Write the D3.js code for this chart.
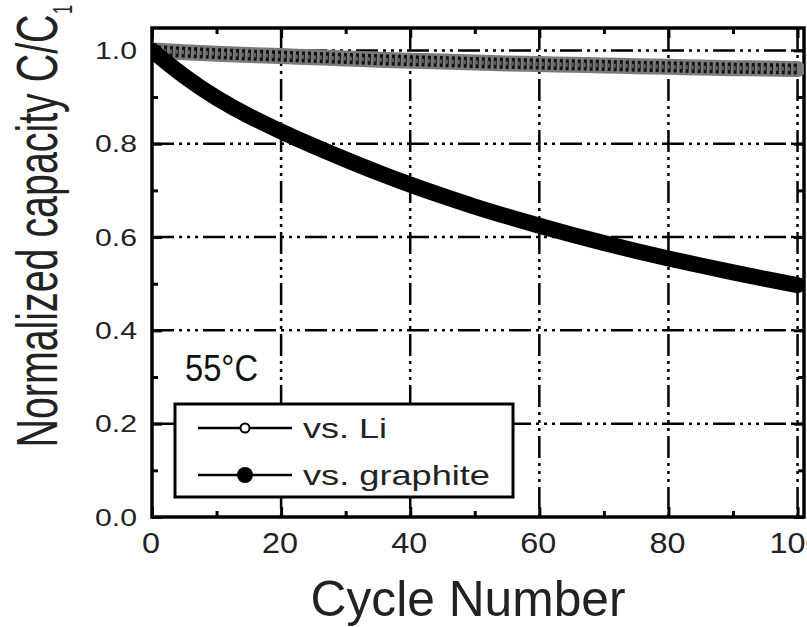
<!DOCTYPE html>
<html>
<head>
<meta charset="utf-8">
<script src="https://cdn.jsdelivr.net/npm/d3@7"></script>
<style>
  html, body { margin: 0; padding: 0; background: #fff; }
  svg { display: block; font-family: "Liberation Sans", Arial, sans-serif; }
</style>
</head>
<body>
<svg id="svg" width="807" height="627"></svg>
<script>
// values
var cycles = [0, 5, 10, 15, 20, 25, 30, 35, 40, 45, 50, 55, 60, 65, 70, 75, 80, 85, 90, 95, 100];
var vsLi = [1.0, 0.996, 0.993, 0.990, 0.988, 0.985, 0.983, 0.980, 0.978, 0.976, 0.974,
            0.972, 0.971, 0.969, 0.968, 0.966, 0.965, 0.963, 0.962, 0.961, 0.960];
var vsGraphite = [1.0, 0.943, 0.897, 0.859, 0.826, 0.795, 0.766, 0.738, 0.712, 0.688, 0.665,
                  0.644, 0.624, 0.605, 0.587, 0.570, 0.554, 0.539, 0.524, 0.510, 0.497];
var xTicks = [0, 20, 40, 60, 80, 100];
var yTicks = [0.0, 0.2, 0.4, 0.6, 0.8, 1.0];
var xMinor = [10, 30, 50, 70, 90];
var yMinor = [0.1, 0.3, 0.5, 0.7, 0.9];
var legendLabels = ["vs. Li", "vs. graphite"];

var svg = d3.select('#svg');
var pL = 152, pR = 804, pT = 28, pB = 517;

var x = d3.scaleLinear().domain([0, 101]).range([pL, pR]);
var y = d3.scaleLinear().domain([0, 1.048]).range([pB, pT]);

var dash = '22,5,3,5,3,5,3,5';

// grid
var grid = svg.append('g').attr('stroke', '#000').attr('stroke-width', 2.5)
    .attr('stroke-dasharray', dash).attr('fill', 'none');
xTicks.forEach(function (t) {
    if (t === 0) return;
    grid.append('line').attr('x1', x(t)).attr('x2', x(t)).attr('y1', pT).attr('y2', pB);
});
yTicks.forEach(function (t) {
    if (t === 0) return;
    grid.append('line').attr('y1', y(t)).attr('y2', y(t)).attr('x1', pL).attr('x2', pR);
});

// axes, ticks inward on all four sides
svg.append('g').attr('transform', 'translate(0,' + pB + ')')
    .call(d3.axisTop(x).tickValues(xTicks).tickSize(10).tickFormat(''));
svg.append('g').attr('transform', 'translate(0,' + pB + ')')
    .call(d3.axisTop(x).tickValues(xMinor).tickSize(6).tickFormat(''));
svg.append('g').attr('transform', 'translate(0,' + pT + ')')
    .call(d3.axisBottom(x).tickValues(xTicks).tickSize(10).tickFormat(''));
svg.append('g').attr('transform', 'translate(0,' + pT + ')')
    .call(d3.axisBottom(x).tickValues(xMinor).tickSize(6).tickFormat(''));
svg.append('g').attr('transform', 'translate(' + pL + ',0)')
    .call(d3.axisRight(y).tickValues(yTicks).tickSize(10).tickFormat(''));
svg.append('g').attr('transform', 'translate(' + pL + ',0)')
    .call(d3.axisRight(y).tickValues(yMinor).tickSize(6).tickFormat(''));
svg.append('g').attr('transform', 'translate(' + pR + ',0)')
    .call(d3.axisLeft(y).tickValues(yTicks).tickSize(10).tickFormat(''));
svg.append('g').attr('transform', 'translate(' + pR + ',0)')
    .call(d3.axisLeft(y).tickValues(yMinor).tickSize(6).tickFormat(''));

svg.selectAll('.tick line').attr('stroke', '#000').attr('stroke-width', 3);
svg.selectAll('.domain').remove();

// frame
svg.append('rect').attr('x', pL).attr('y', pT)
    .attr('width', pR - pL).attr('height', pB - pT)
    .attr('fill', 'none').attr('stroke', '#000').attr('stroke-width', 3.5);

// tick labels
svg.append('g').selectAll('text').data(yTicks).enter().append('text')
    .attr('x', 137).attr('y', function (d) { return y(d) + 8.5; })
    .attr('text-anchor', 'end').attr('font-size', 24).attr('fill', '#222')
    .attr('textLength', 42).attr('lengthAdjust', 'spacingAndGlyphs')
    .text(function (d) { return d.toFixed(1); });

svg.append('g').selectAll('text').data(xTicks).enter().append('text')
    .attr('x', function (d) { return x(d) - 1; }).attr('y', 553)
    .attr('text-anchor', 'middle').attr('font-size', 29).attr('fill', '#222')
    .attr('textLength', function (d) { return String(d).length * 18; })
    .attr('lengthAdjust', 'spacingAndGlyphs')
    .text(function (d) { return d; });

// data
var liData = cycles.map(function (c, i) { return [c, vsLi[i]]; });
var grData = cycles.map(function (c, i) { return [c, vsGraphite[i]]; });
var line = d3.line()
    .x(function (d) { return x(d[0]); })
    .y(function (d) { return y(d[1]); })
    .curve(d3.curveBasis);

svg.append('clipPath').attr('id', 'plotclip').append('rect')
    .attr('x', pL).attr('y', pT).attr('width', pR - pL).attr('height', pB - pT);
var plot = svg.append('g').attr('clip-path', 'url(#plotclip)');

// vs. Li: band of overlapping open circles
plot.append('path').attr('d', line(liData)).attr('fill', 'none')
    .attr('stroke', '#7a7a7a').attr('stroke-width', 16).attr('stroke-linecap', 'round');
plot.append('path').attr('d', line(liData)).attr('fill', 'none')
    .attr('stroke', '#111').attr('stroke-width', 11).attr('stroke-dasharray', '3,3');
plot.append('path').attr('d', line(liData)).attr('fill', 'none')
    .attr('stroke', '#666').attr('stroke-width', 4).attr('stroke-dasharray', '2,4');

// vs. graphite: band of overlapping filled circles
plot.append('path').attr('d', line(grData)).attr('fill', 'none')
    .attr('stroke', '#000').attr('stroke-width', 16).attr('stroke-linecap', 'round');

// 55°C label
svg.append('text').attr('x', 185).attr('y', 381)
    .attr('font-size', 36).attr('fill', '#111')
    .attr('textLength', 73).attr('lengthAdjust', 'spacingAndGlyphs')
    .text('55°C');

// legend
var lg = svg.append('g');
lg.append('rect').attr('x', 175).attr('y', 404).attr('width', 338).attr('height', 93)
    .attr('fill', '#fff').attr('stroke', '#000').attr('stroke-width', 3);
var rows = [428, 475];
rows.forEach(function (ry, i) {
    lg.append('line').attr('x1', 198).attr('x2', 292).attr('y1', ry).attr('y2', ry)
        .attr('stroke', '#000').attr('stroke-width', 2.5);
    if (i === 0) {
        lg.append('circle').attr('cx', 245).attr('cy', ry).attr('r', 4.5)
            .attr('fill', '#fff').attr('stroke', '#000').attr('stroke-width', 2);
    } else {
        lg.append('circle').attr('cx', 245).attr('cy', ry).attr('r', 8).attr('fill', '#000');
    }
    lg.append('text').attr('x', 303).attr('y', ry + 10)
        .attr('font-size', 28).attr('fill', '#222')
        .attr('textLength', i === 0 ? 84 : 187).attr('lengthAdjust', 'spacingAndGlyphs')
        .text(legendLabels[i]);
});

// axis titles
svg.append('text').attr('x', 468).attr('y', 616)
    .attr('text-anchor', 'middle').attr('font-size', 50).attr('fill', '#222')
    .attr('textLength', 315).attr('lengthAdjust', 'spacingAndGlyphs')
    .text('Cycle Number');

svg.append('text').attr('transform', 'translate(57,231) rotate(-90)')
    .attr('text-anchor', 'middle').attr('font-size', 57).attr('fill', '#222')
    .attr('textLength', 433).attr('lengthAdjust', 'spacingAndGlyphs')
    .text('Normalized capacity C/C');
svg.append('text').attr('transform', 'translate(72,14) rotate(-90)')
    .attr('text-anchor', 'start').attr('font-size', 28).attr('fill', '#222')
    .attr('textLength', 9).attr('lengthAdjust', 'spacingAndGlyphs')
    .text('1');
</script>
</body>
</html>
